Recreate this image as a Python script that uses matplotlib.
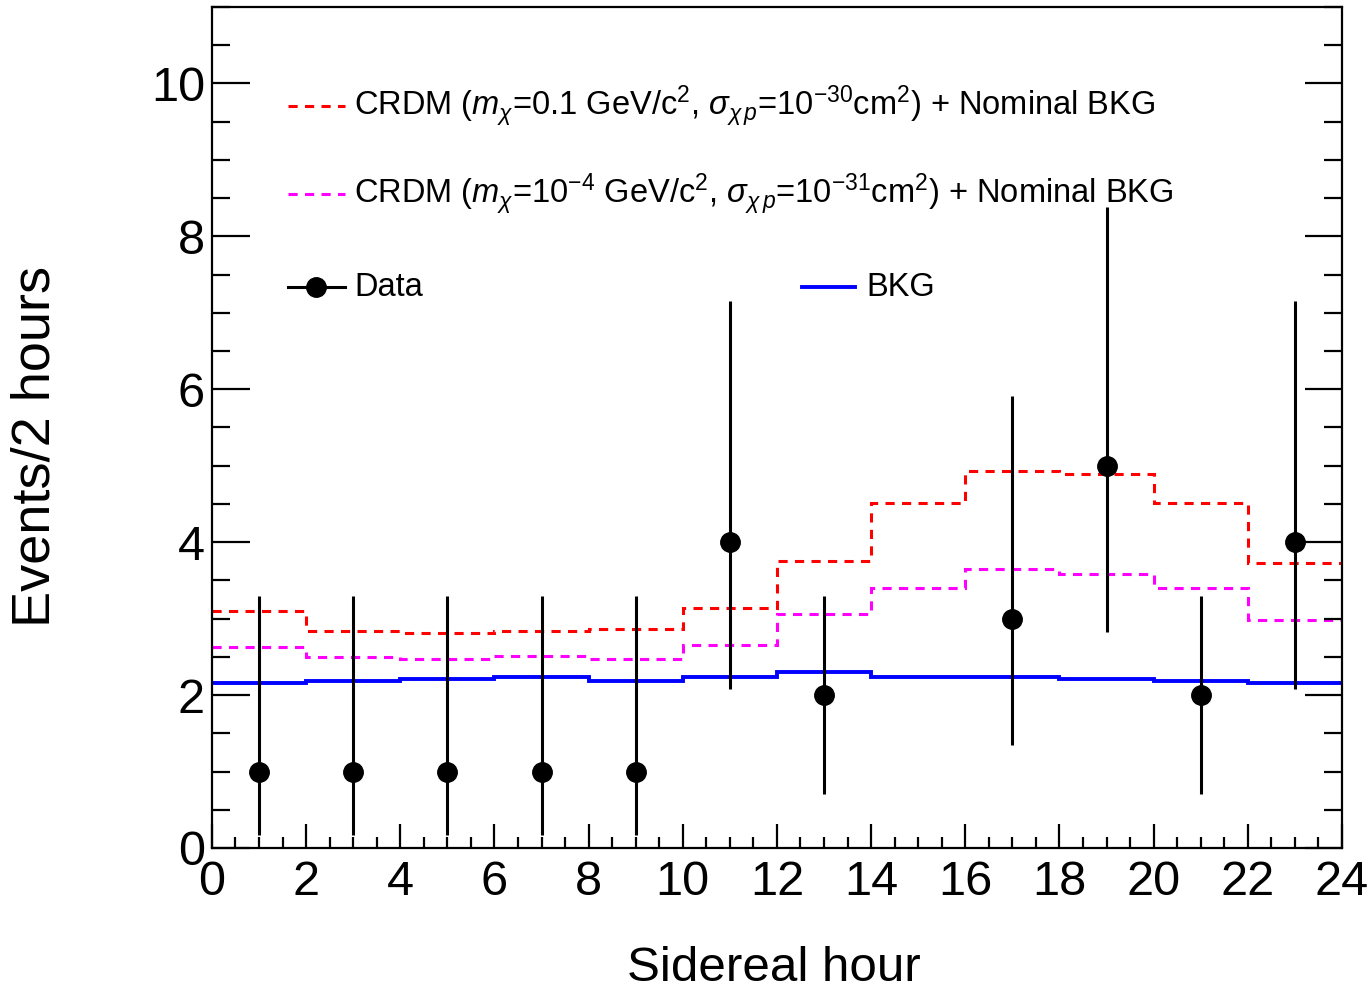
import numpy as np
import matplotlib
matplotlib.use("Agg")
from matplotlib import pyplot as plt
from matplotlib.lines import Line2D

plt.rcParams['font.family'] = ['Liberation Sans', 'DejaVu Sans']
plt.rcParams['mathtext.fontset'] = 'custom'
plt.rcParams['mathtext.rm'] = 'Liberation Sans'
plt.rcParams['mathtext.it'] = 'Liberation Sans:italic'

# bins of sidereal hour
edges = np.arange(0, 26, 2)

crdm_heavy = [3.10, 2.84, 2.81, 2.84, 2.86, 3.14, 3.75, 4.51, 4.93, 4.89, 4.51, 3.73]
crdm_light = [2.63, 2.50, 2.47, 2.51, 2.47, 2.65, 3.06, 3.40, 3.65, 3.58, 3.40, 2.98]
bkg = [2.16, 2.18, 2.21, 2.24, 2.18, 2.24, 2.30, 2.24, 2.24, 2.21, 2.18, 2.16]

# observed counts (empty bin 14-16 not drawn)
data_x = [1, 3, 5, 7, 9, 11, 13, 17, 19, 21, 23]
data_y = [1, 1, 1, 1, 1, 4, 2, 3, 5, 2, 4]
data_lo = [0.17, 0.17, 0.17, 0.17, 0.17, 2.08, 0.70, 1.35, 2.83, 0.70, 2.08]
data_hi = [3.30, 3.30, 3.30, 3.30, 3.30, 7.16, 3.30, 5.91, 8.38, 3.30, 7.16]

label_heavy = (r'CRDM ($m_\chi$=0.1 GeV/c$^2$, $\sigma_{\chi\,p}$=10$^{-30}$cm$^2$)'
               r' + Nominal BKG')
label_light = (r'CRDM ($m_\chi$=10$^{-4}$ GeV/c$^2$, $\sigma_{\chi\,p}$=10$^{-31}$cm$^2$)'
               r' + Nominal BKG')

fig = plt.figure(figsize=(13.71, 9.92), dpi=100)
ax = fig.add_axes([0.1546, 0.1452, 0.8242, 0.8478])

dash = (0, (3.0, 2.4))
ax.stairs(crdm_heavy, edges, color='#ff0000', lw=2.2, linestyle=dash, baseline=None)
ax.stairs(crdm_light, edges, color='#ff00ff', lw=2.2, linestyle=dash, baseline=None)
ax.stairs(bkg, edges, color='#0000ff', lw=2.8, baseline=None)

yerr = [np.array(data_y) - np.array(data_lo), np.array(data_hi) - np.array(data_y)]
ax.errorbar(data_x, data_y, yerr=yerr, fmt='o', color='black', ms=14,
            elinewidth=2.2, capsize=0, zorder=5)

ax.set_xlim(0, 24)
ax.set_ylim(0, 11)
ax.set_xticks(np.arange(0, 25, 2))
ax.set_xticks(np.arange(0, 24.1, 0.5), minor=True)
ax.set_yticks(np.arange(0, 11, 2))
ax.set_yticks(np.arange(0, 11.1, 0.5), minor=True)
ax.tick_params(axis='both', which='both', direction='in', labelsize=35, width=1.6)
ax.tick_params(axis='y', which='major', length=27, right=True, pad=5)
ax.tick_params(axis='y', which='minor', length=13, right=True)
ax.tick_params(axis='x', which='major', length=17, pad=9)
ax.tick_params(axis='x', which='minor', length=8)
for s in ax.spines.values():
    s.set_linewidth(1.6)

ax.set_xlabel('Sidereal hour', fontsize=35.5)
ax.set_ylabel('Events/2 hours', fontsize=39)
ax.xaxis.set_label_coords(0.497, -0.117)
ax.yaxis.set_label_coords(-0.134, 0.478)

# legend drawn by hand, ROOT-style layout
leg_fs = 23.5
tr = ax.transAxes
rows = [0.882, 0.777, 0.667]
ax.add_line(Line2D([0.067, 0.118], [rows[0]] * 2, transform=tr, color='#ff0000',
                   lw=2.2, linestyle=dash))
ax.text(0.126, rows[0], label_heavy, transform=tr, fontsize=leg_fs, va='center')
ax.add_line(Line2D([0.067, 0.118], [rows[1]] * 2, transform=tr, color='#ff00ff',
                   lw=2.2, linestyle=dash))
ax.text(0.126, rows[1], label_light, transform=tr, fontsize=leg_fs, va='center')
ax.add_line(Line2D([0.067, 0.118], [rows[2]] * 2, transform=tr, color='black', lw=2.2))
ax.add_line(Line2D([0.092], [rows[2]], transform=tr, color='black', marker='o', ms=14))
ax.text(0.126, rows[2], 'Data', transform=tr, fontsize=leg_fs, va='center')
ax.add_line(Line2D([0.522, 0.569], [rows[2]] * 2, transform=tr, color='#0000ff', lw=2.8))
ax.text(0.579, rows[2], 'BKG', transform=tr, fontsize=leg_fs, va='center')

fig.savefig('out.png', dpi=100)
